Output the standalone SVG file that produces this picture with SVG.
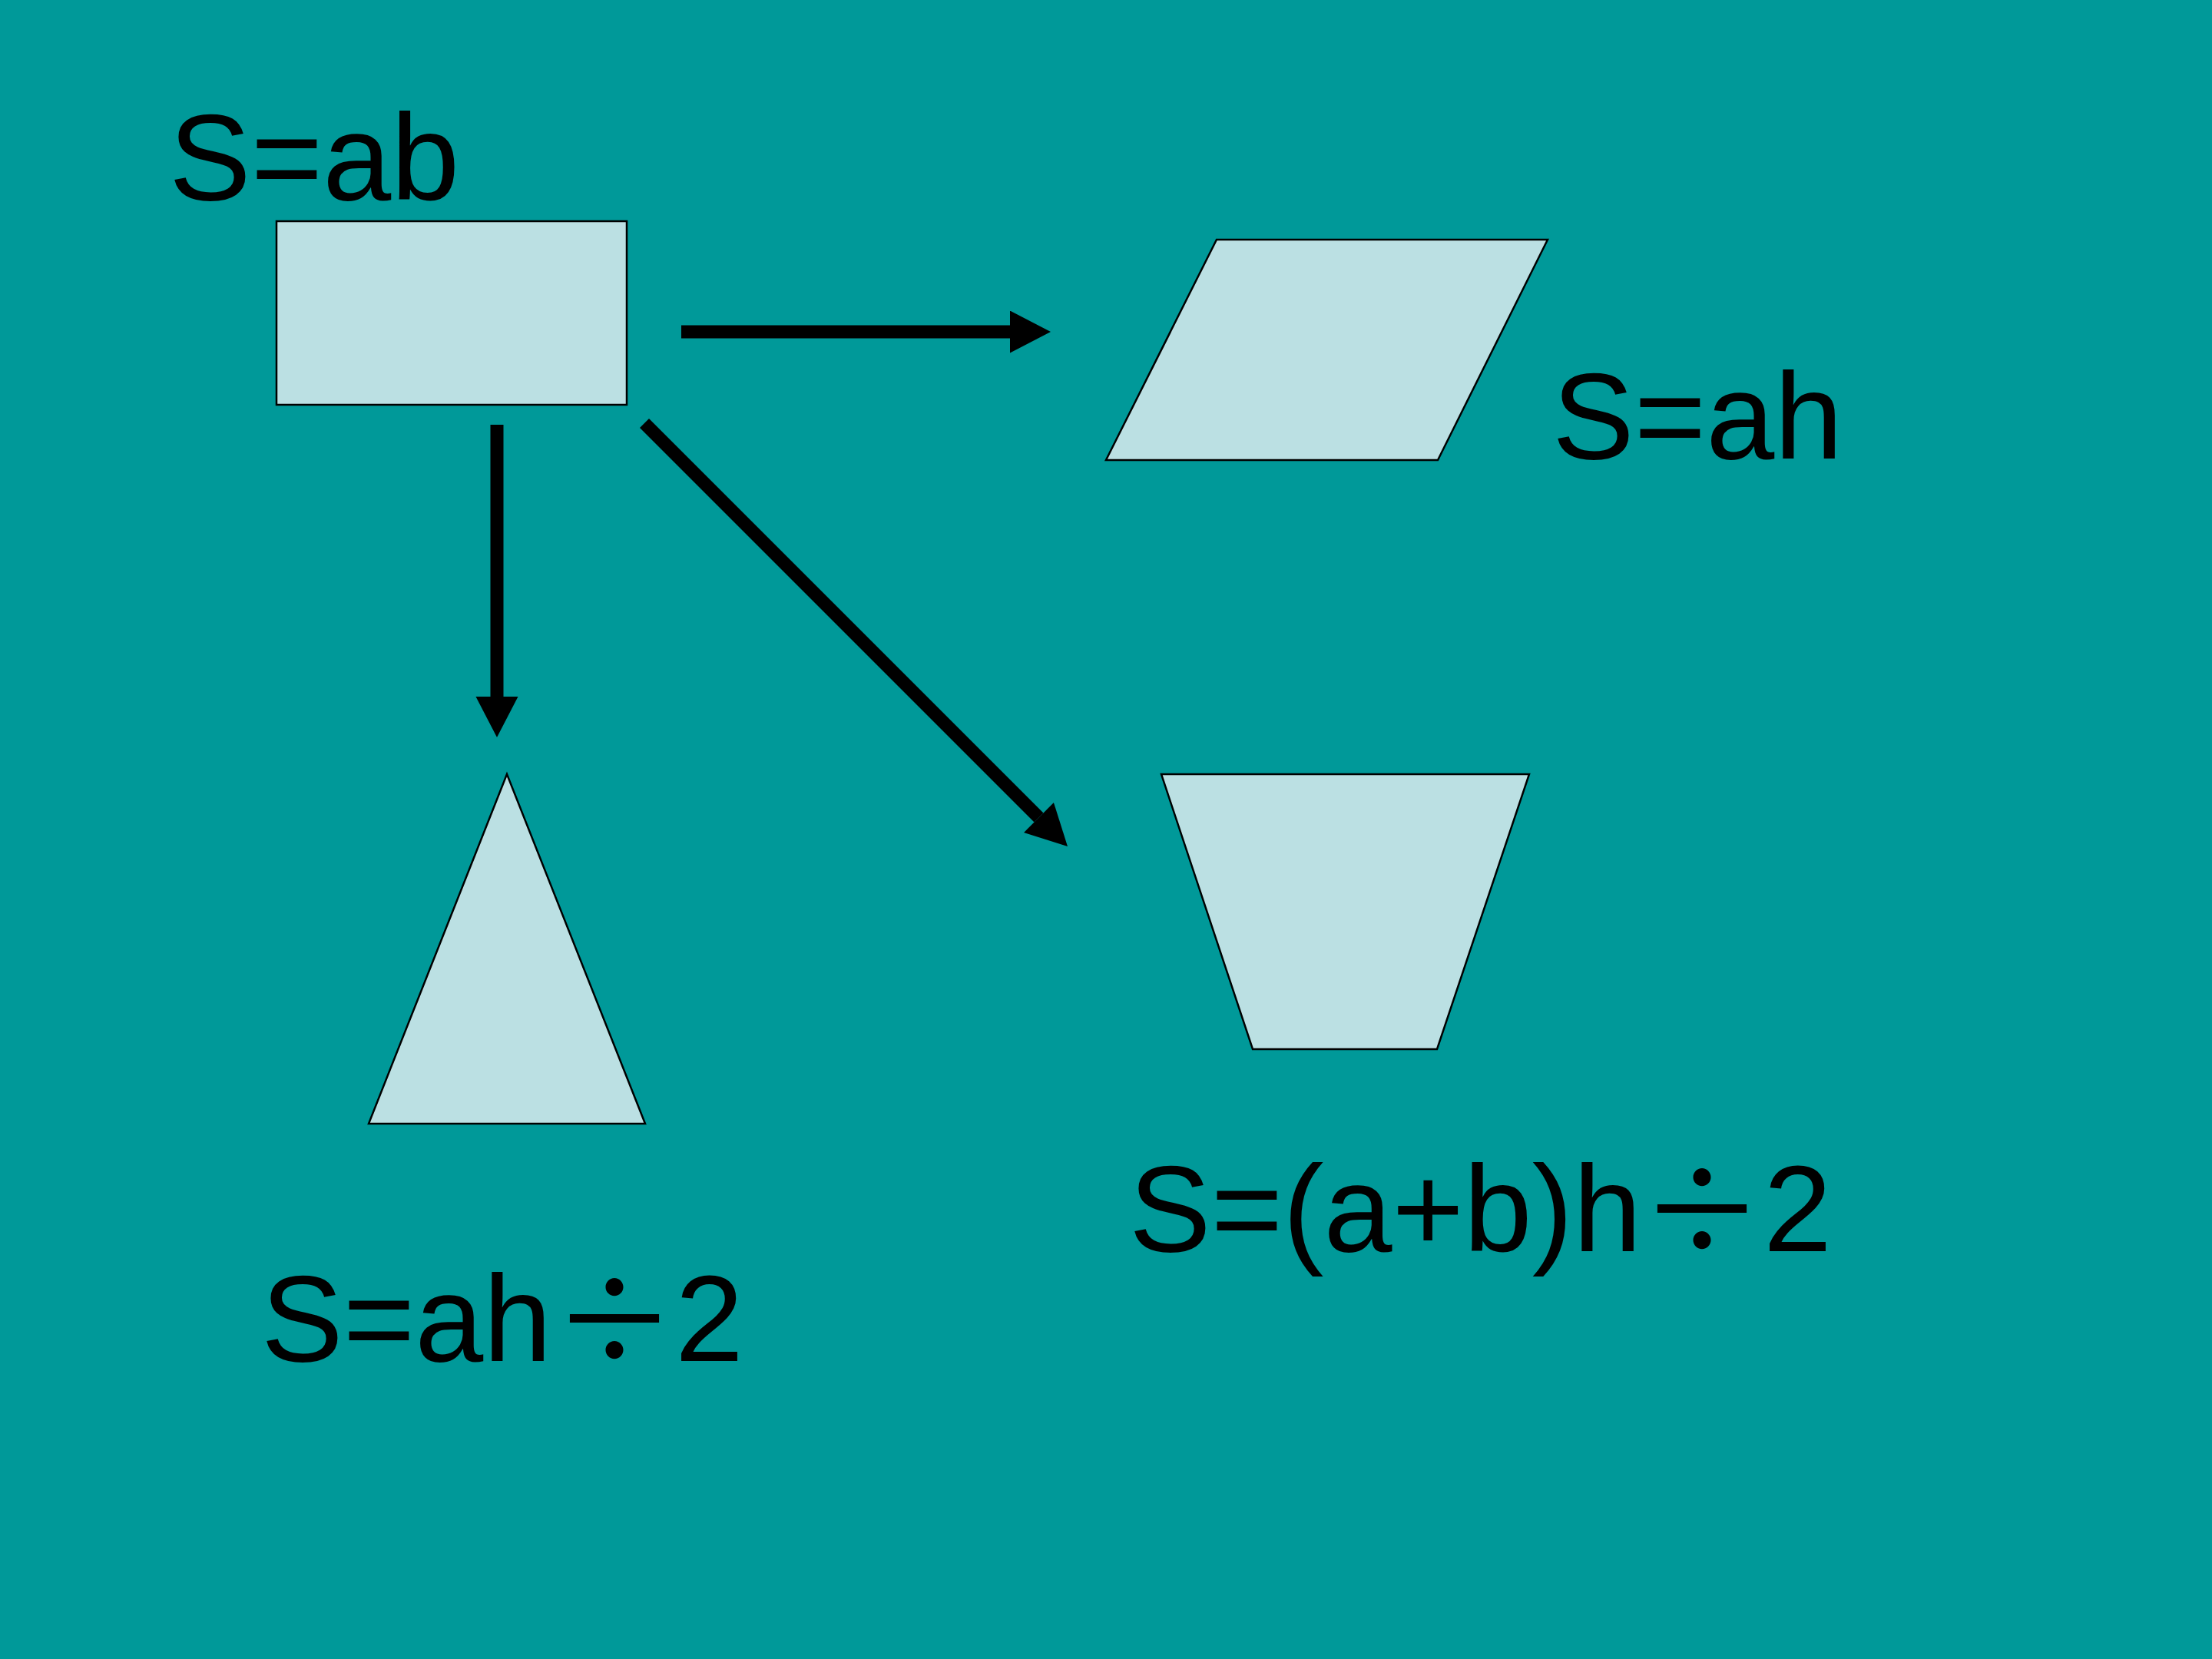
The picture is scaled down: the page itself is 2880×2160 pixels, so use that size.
<svg xmlns="http://www.w3.org/2000/svg" width="2880" height="2160" viewBox="0 0 2880 2160">
<style>
.shape{fill:#BBE0E3;stroke:#000;stroke-width:2.5}
.lbl{font-family:"Liberation Sans",Arial,sans-serif;font-size:160px;fill:#000}
.div{font-family:"Noto Sans CJK SC",sans-serif;font-size:160px}
.conn{stroke:#000;stroke-width:17;fill:none;marker-end:url(#ah)}
</style>
<defs>
<marker id="ah" markerUnits="userSpaceOnUse" markerWidth="54" markerHeight="56" refX="0" refY="27.5" orient="auto">
<path d="M0,0 L53,27.5 L0,55 z" fill="#000"/>
</marker>
</defs>
<rect width="2880" height="2160" fill="#009999"/>
<g id="rect-node">
<rect class="shape" x="360" y="288" width="456" height="239"/>
<text class="lbl" x="220" y="260">S=ab</text>
</g>
<g id="parallelogram-node">
<polygon class="shape" points="1584,312 2015,312 1872,599 1440,599"/>
<text class="lbl" x="2021" y="597">S=ah</text>
</g>
<g id="triangle-node">
<polygon class="shape" points="660,1008 840,1463 480,1463"/>
<text class="lbl" x="340" y="1772">S=ah<tspan class="div" x="720" dy="5">÷</tspan><tspan x="879" dy="-5">2</tspan></text>
</g>
<g id="trapezoid-node">
<polygon class="shape" points="1512,1008 1991,1008 1871,1366 1631,1366"/>
<text class="lbl" x="1470" y="1629">S=(a+b)h<tspan class="div" x="2136" dy="5">÷</tspan><tspan x="2296" dy="-5">2</tspan></text>
</g>
<g id="connectors">
<line class="conn" x1="887" y1="432" x2="1315" y2="432"/>
<line class="conn" x1="647" y1="553" x2="647" y2="907"/>
<line class="conn" x1="839" y1="551" x2="1352.5" y2="1064.5"/>
</g>
</svg>
